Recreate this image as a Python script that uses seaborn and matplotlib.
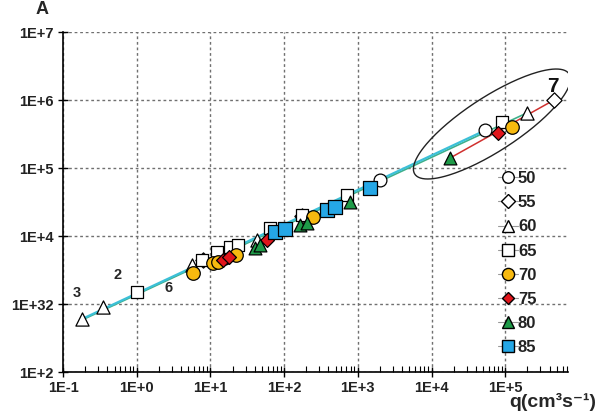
import numpy as np
import pandas as pd
import matplotlib
matplotlib.use("Agg")
import matplotlib.pyplot as plt
from matplotlib.lines import Line2D
import seaborn as sns

# ---------------- data ----------------
s50_x = [16, 2000, 54000]
s50_y = [4700, 66000, 360000]
s55_x = [8, 175, 460000]
s55_y = [4400, 20000, 1000000]
s60_x = [0.18, 0.35, 5.6, 43, 200000]
s60_y = [600, 900, 3750, 8700, 650000]
s65_x = [1.0, 7.7, 12.3, 18.5, 23.7, 64, 175, 713, 90000]
s65_y = [1500, 4400, 5800, 6900, 7400, 13100, 20400, 40000, 470000]
s70_x = [5.8, 10.8, 12.7, 22, 247, 124000]
s70_y = [2860, 4010, 4150, 5260, 19000, 400000]
s75_x = [14.8, 17.9, 59, 80000]
s75_y = [4440, 4910, 8730, 327000]
s80_x = [40, 47, 164, 205, 783, 17800]
s80_y = [6670, 7380, 14500, 15500, 31600, 140000]
s85_x = [75, 103, 382, 491, 1466]
s85_y = [11460, 12670, 24100, 26700, 50800]

series_names = ["50", "55", "60", "65", "70", "75", "80", "85"]
xs = [s50_x, s55_x, s60_x, s65_x, s70_x, s75_x, s80_x, s85_x]
ys = [s50_y, s55_y, s60_y, s65_y, s70_y, s75_y, s80_y, s85_y]

# trend lines (end points, data units)
cyan_x = [0.18, 54000]
cyan_y = [600, 360000]
green_x = [0.18, 200000]
green_y = [580, 650000]
red_x = [17800, 460000]
red_y = [140000, 1000000]

xtick_vals = [1e-1, 1e0, 1e1, 1e2, 1e3, 1e4, 1e5]
xtick_labels = ["1E-1", "1E+0", "1E+1", "1E+2", "1E+3", "1E+4", "1E+5"]
ytick_vals = [1e2, 1e3, 1e4, 1e5, 1e6, 1e7]
ytick_labels = ["1E+2", "1E+32", "1E+4", "1E+5", "1E+6", "1E+7"]

# ---------------- styles ----------------
markers = {"50": "o", "55": "D", "60": "^", "65": "s",
           "70": "o", "75": "D", "80": "^", "85": "s"}
faces = {"50": "white", "55": "white", "60": "white", "65": "white",
         "70": "#F7B90F", "75": "#E0151B", "80": "#1E9A48", "85": "#25A7E6"}
sizes = {"50": 85, "55": 60, "60": 90, "65": 80,
         "70": 95, "75": 50, "80": 85, "85": 90}

sns.set_theme(style="white")
plt.rcParams["font.family"] = ["Liberation Sans", "DejaVu Sans"]
plt.rcParams["font.weight"] = "bold"

fig = plt.figure(figsize=(6.08, 4.18), dpi=100)
ax = fig.add_axes([63/608, 1-372/418, (568-63)/608, (372-32)/418])
ax.set_xscale("log")
ax.set_yscale("log")
ax.set_xlim(1e-1, 10**5.852)
ax.set_ylim(1e2, 1e7)

# lines
ax.plot(green_x, green_y, color="#3FAF8A", lw=1.2, zorder=2)
ax.plot(cyan_x, cyan_y, color="#3CC0D8", lw=1.6, zorder=2)
ax.plot(red_x, red_y, color="#D0302E", lw=1.1, zorder=2)

rows = []
for name, xx, yy in zip(series_names, xs, ys):
    for a, b in zip(xx, yy):
        rows.append({"q": a, "v": b, "series": name})
df = pd.DataFrame(rows)

for name in series_names:
    sub = df[df["series"] == name]
    sns.scatterplot(data=sub, x="q", y="v", ax=ax, marker=markers[name],
                    color=faces[name], edgecolor="black", linewidth=0.9,
                    s=sizes[name], zorder=4, legend=False)
ax.set_xlabel("")
ax.set_ylabel("")

# ellipse around group 7 (defined in log space)
cx, cy = 4.82, 5.647
a_px, b_px, ang = 92, 27, np.deg2rad(33)
t = np.linspace(0, 2*np.pi, 200)
dx_px = a_px*np.cos(t)*np.cos(ang) - b_px*np.sin(t)*np.sin(ang)
dy_px = a_px*np.cos(t)*np.sin(ang) + b_px*np.sin(t)*np.cos(ang)
ax.plot(10**(cx + dx_px/73.7), 10**(cy + dy_px/68.0), color="#222222", lw=1.0, zorder=3)

# grid & ticks
ax.set_xticks(xtick_vals)
ax.set_xticklabels(xtick_labels)
ax.set_yticks(ytick_vals)
ax.set_yticklabels(ytick_labels)
ax.yaxis.set_minor_locator(matplotlib.ticker.NullLocator())
ax.grid(True, which="major", linestyle=(0, (2, 2)), color="#707070", lw=1.0)
for sp in ["top", "right"]:
    ax.spines[sp].set_visible(False)
for sp in ["left", "bottom"]:
    ax.spines[sp].set_color("black")
    ax.spines[sp].set_linewidth(1.2)
ax.tick_params(axis="both", which="major", direction="inout", length=7, width=1,
               labelsize=10.5, colors="black", pad=3)
ax.tick_params(axis="x", which="minor", direction="in", length=4, width=0.8, colors="black")
ax.tick_params(axis="both", which="both", bottom=True, left=True)
for lab in ax.get_xticklabels() + ax.get_yticklabels():
    lab.set_fontweight("bold")
    lab.set_color("#222222")

# annotations
ax.text(10**(-1 + (553-63)/73.7), 10**(7 - (87-32)/68), "7", fontsize=15,
        fontweight="bold", ha="center", va="center", color="#111111")
ax.text(10**(-1 + (118-63)/73.7), 10**(7 - (275-32)/68), "2", fontsize=10.5,
        fontweight="bold", ha="center", va="center")
ax.text(10**(-1 + (77-63)/73.7), 10**(7 - (293-32)/68), "3", fontsize=10.5,
        fontweight="bold", ha="center", va="center")
ax.text(10**(-1 + (169-63)/73.7), 10**(7 - (288-32)/68), "6", fontsize=10.5,
        fontweight="bold", ha="center", va="center")

fig.text(42/608, 1-10/418, "A", fontsize=13, fontweight="bold", ha="center", va="center")
fig.text(553/608, 1-402/418, "q(cm³s⁻¹)", fontsize=14, fontweight="bold",
         ha="center", va="center")

# legend
handles = []
for name in series_names:
    handles.append(Line2D([0], [0], color="#9a9a9a", lw=0.8, marker=markers[name],
                          markerfacecolor=faces[name], markeredgecolor="black",
                          markersize=np.sqrt(sizes[name]) * 0.9, label=name))
leg = ax.legend(handles=handles, loc="upper left", frameon=False,
                bbox_to_anchor=(498/608, 1-171/418), bbox_transform=fig.transFigure,
                fontsize=12, handlelength=1.2, handletextpad=0.0, labelspacing=0.55,
                borderaxespad=0, borderpad=0)
for txt in leg.get_texts():
    txt.set_fontweight("bold")
    txt.set_color("#222222")

fig.savefig("out.png", dpi=100, facecolor="white")
